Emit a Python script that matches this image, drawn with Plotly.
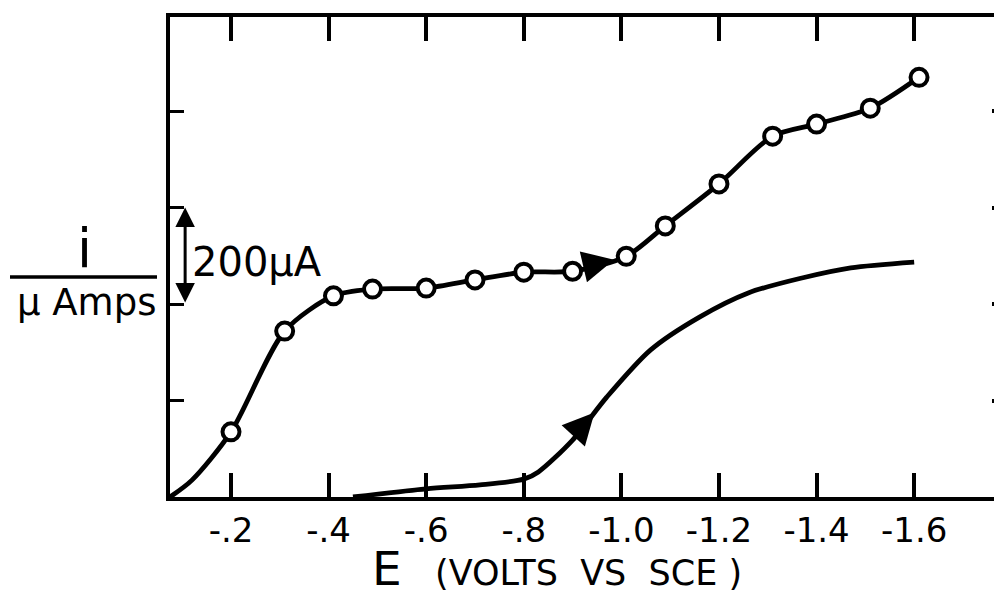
import plotly.graph_objects as go

# upper curve: measured points (open circles)
upper_E = [-0.20, -0.31, -0.41, -0.49, -0.60, -0.70, -0.80, -0.90, -1.01, -1.09, -1.20, -1.31, -1.40, -1.51, -1.61]
upper_i = [135, 344, 417, 431, 433, 450, 466, 468, 499, 562, 649, 748, 773, 806, 870]
# the drawn line starts at the origin corner
upper_start_E = [-0.075, -0.12]
upper_start_i = [0, 35]

# lower curve (no markers)
lower_E = [-0.45, -0.60, -0.71, -0.80, -0.83, -0.90, -0.97, -1.06, -1.16, -1.26, -1.37, -1.47, -1.60]
lower_i = [0, 17, 25, 37, 52, 118, 207, 305, 373, 423, 454, 475, 487]

x_ticks = [-0.2, -0.4, -0.6, -0.8, -1.0, -1.2, -1.4, -1.6]
x_labels = ["-.2", "-.4", "-.6", "-.8", "-1.0", "-1.2", "-1.4", "-1.6"]
y_ticks = [200, 400, 600, 800]

FONT = "DejaVu Sans"
INK = "black"

# plot area in page pixels: x 170..1002, y 17..497 (page body has an 8px margin)
PX0, PW, PY1, PH = 170, 832, 497, 480


def px(x):
    return (x - PX0) / PW


def py(y):
    return (PY1 - y) / PH


fig = go.Figure()

fig.add_trace(go.Scatter(
    x=upper_start_E + upper_E, y=upper_start_i + upper_i,
    mode="lines", line=dict(color=INK, width=4.8, shape="spline", smoothing=0.8),
    hoverinfo="skip", showlegend=False,
))
fig.add_trace(go.Scatter(
    x=upper_E, y=upper_i, mode="markers",
    marker=dict(symbol="circle", size=17, color="white", line=dict(color=INK, width=4)),
    showlegend=False,
))
fig.add_trace(go.Scatter(
    x=lower_E, y=lower_i,
    mode="lines", line=dict(color=INK, width=4.8, shape="spline", smoothing=0.8),
    showlegend=False,
))
# dummy trace so the right-hand tick axis gets drawn
fig.add_trace(go.Scatter(x=[-1.0], y=[0], yaxis="y2", mode="markers",
                         marker=dict(opacity=0), hoverinfo="skip", showlegend=False))

# direction arrows on the curves
fig.add_annotation(x=-0.985, y=492, ax=-30, ay=7, text="", showarrow=True,
                   arrowhead=2, arrowsize=1.8, arrowwidth=3.5, arrowcolor=INK)
fig.add_annotation(x=-0.945, y=175, ax=-22, ay=24, text="", showarrow=True,
                   arrowhead=2, arrowsize=1.8, arrowwidth=3.5, arrowcolor=INK)

# 200 uA scale bar
fig.add_annotation(x=-0.106, y=600, ax=-0.106, ay=400, axref="x", ayref="y",
                   text="", showarrow=True, arrowhead=2, startarrowhead=2,
                   arrowside="end+start", arrowsize=1.3, startarrowsize=1.3,
                   arrowwidth=3, arrowcolor=INK)
fig.add_annotation(x=px(190), y=py(262), xref="paper", yref="paper",
                   xanchor="left", yanchor="middle", text="200µA", showarrow=False,
                   font=dict(family=FONT, size=40, color=INK))

# y label as a fraction  i / µ Amps
fig.add_annotation(x=px(84), y=py(249), xref="paper", yref="paper",
                   xanchor="center", yanchor="middle",
                   text="i", showarrow=False, font=dict(family=FONT, size=54, color=INK))
fig.add_annotation(x=px(86), y=py(302), xref="paper", yref="paper",
                   xanchor="center", yanchor="middle",
                   text="µ Amps", showarrow=False, font=dict(family=FONT, size=37, color=INK))
fig.add_shape(type="line", xref="paper", yref="paper",
              x0=px(10), x1=px(157), y0=py(277), y1=py(277),
              line=dict(color=INK, width=3.5))

# x label
fig.add_annotation(x=px(557), y=py(568), xref="paper", yref="paper",
                   xanchor="center", yanchor="middle",
                   text='<span style="font-size:47px">E</span>&nbsp;&nbsp;&nbsp;(VOLTS&nbsp;&nbsp;VS&nbsp;&nbsp;SCE )',
                   showarrow=False, font=dict(family=FONT, size=35, color=INK))

fig.update_layout(
    width=994, height=589,
    margin=dict(l=PX0 - 8, r=0, t=17 - 8, b=589 - (PY1 - 8)),
    paper_bgcolor="white", plot_bgcolor="white",
    showlegend=False,
    xaxis=dict(
        range=[-0.075, -1.78], tickvals=x_ticks, ticktext=x_labels,
        ticks="inside", ticklen=24, tickwidth=3.5, tickcolor=INK,
        showline=True, linewidth=4, linecolor=INK, mirror="ticks",
        showgrid=False, zeroline=False,
        tickfont=dict(family=FONT, size=34, color=INK),
    ),
    yaxis=dict(
        range=[0, 995], tickvals=y_ticks, showticklabels=False,
        ticks="inside", ticklen=14, tickwidth=3, tickcolor=INK,
        showline=True, linewidth=4, linecolor=INK, mirror=False,
        showgrid=False, zeroline=False,
    ),
    yaxis2=dict(
        range=[0, 995], tickvals=y_ticks, showticklabels=False,
        overlaying="y", side="right", anchor="x",
        ticks="inside", ticklen=10, tickwidth=3.5, tickcolor=INK,
        showline=False, showgrid=False, zeroline=False,
    ),
)

fig.write_html("out.html")
